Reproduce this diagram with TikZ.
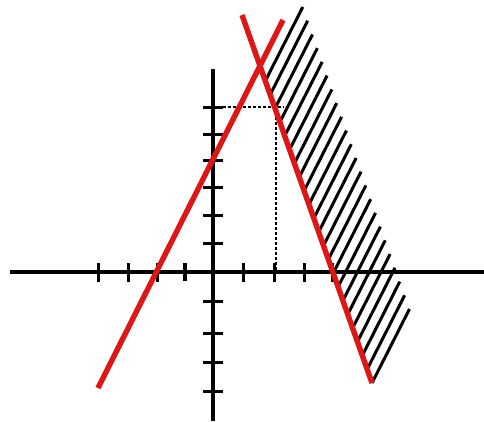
\documentclass[tikz,border=0pt]{standalone}
\usetikzlibrary{calc}
\definecolor{redline}{RGB}{222,22,22}
\tikzset{
  axis/.style={line width=3.4pt,black},
  tick/.style={line width=3pt,black},
  guide/.style={line width=1.5pt,black,dash pattern=on 3pt off 2pt},
  hatch/.style={line width=3pt,black},
  redl/.style={line width=5.4pt,redline},
}
\begin{document}
\begin{tikzpicture}[x=1pt,y=-1pt]
\useasboundingbox (0,0) rectangle (484,421);
% axes
\coordinate (xl) at (10,272);
\coordinate (xr) at (484,272);
\coordinate (yt) at (213,69);
\coordinate (yb) at (213,421);
\draw[axis] (xl) -- (xr);
\draw[axis] (yt) -- (yb);
% x ticks
\foreach \x in {98,128,157,243,274,304,332}
  \draw[tick] (\x,263) -- (\x,282);
\draw[line width=4.4pt] (185,263) -- (185,281);
% y ticks
\foreach \y in {107,134,160,187,215,243,301,333,362,391}
  \draw[tick] (203,\y) -- (223,\y);
% dashed guides
\coordinate (P) at (276,107);
\coordinate (Px) at (276,272);
\coordinate (Py) at (213,107);
\coordinate (Pe) at (284,107);
\draw[guide] (Py) -- (Pe);
\draw[guide] (P) -- (Px);
% red lines
\coordinate (A1) at (98,388);
\coordinate (A2) at (283,20);
\coordinate (B1) at (242,15);
\coordinate (B2) at (372,383);
% hatching
\foreach \i in {0,...,22}{
  \pgfmathsetmacro{\t}{0.1793+\i*0.8207/22}
  \draw[hatch] ($(B1)!\t!(B2)$) -- ++(37.5,-74);
}
\draw[redl] (A1) -- (A2);
\draw[redl] (B1) -- (B2);
\end{tikzpicture}
\end{document}
